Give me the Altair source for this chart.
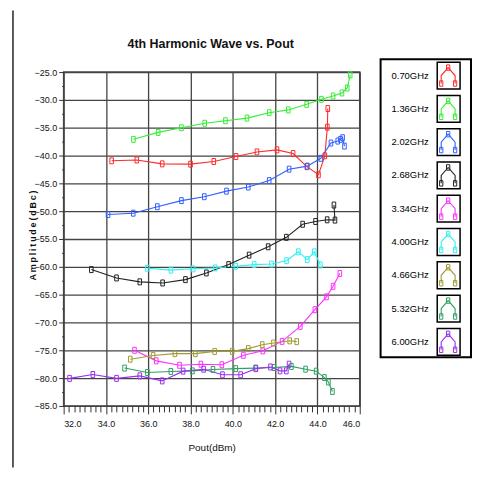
import altair as alt
import pandas as pd

# ---------------- data ----------------
names = ["0.70GHz", "1.36GHz", "2.02GHz", "2.68GHz", "3.34GHz",
         "4.00GHz", "4.66GHz", "5.32GHz", "6.00GHz"]
colors = ["#ff2a2a", "#33ee33", "#3060ff", "#222222", "#ff30ff",
          "#30f0f0", "#a09a30", "#30a060", "#9a30f0"]

x_070 = [34.27, 35.46, 36.66, 38.0, 39.1, 40.15, 41.14, 42.09, 42.85, 43.5, 44.05, 44.35, 44.47, 44.49]
y_070 = [-40.95, -40.8, -41.5, -41.55, -41.07, -40.18, -39.35, -38.98, -39.64, -42.0, -43.45, -40.05, -34.9, -31.55]

x_136 = [35.30, 36.47, 37.57, 38.67, 39.65, 40.67, 41.72, 42.62, 43.49, 44.19, 44.74, 45.16, 45.41, 45.55]
y_136 = [-37.09, -35.84, -35.0, -34.2, -33.75, -33.27, -32.3, -31.8, -30.8, -29.9, -29.3, -28.75, -27.86, -25.5]

x_202 = [34.1, 35.29, 36.43, 37.57, 38.65, 39.7, 40.73, 41.72, 42.66, 43.52, 44.16, 44.64, 44.96, 45.09, 45.19, 45.28]
y_202 = [-50.6, -50.36, -49.2, -48.1, -47.4, -46.4, -45.66, -44.5, -42.45, -41.9, -40.5, -37.75, -37.4, -37.1, -36.8, -38.3]

x_268 = [33.31, 34.5, 35.6, 36.68, 37.76, 38.75, 39.8, 40.77, 41.67, 42.53, 43.3, 43.91, 44.46, 44.83, 44.78]
y_268 = [-60.5, -62.0, -62.7, -62.9, -62.3, -61.1, -59.6, -57.9, -56.4, -54.7, -52.35, -51.85, -51.55, -51.6, -48.9]

x_334 = [35.35, 36.38, 37.48, 38.49, 39.48, 40.5, 41.42, 42.33, 43.19, 43.88, 44.43, 44.74, 45.06]
y_334 = [-75.0, -76.9, -77.7, -77.5, -77.6, -75.9, -75.1, -73.4, -70.7, -67.7, -65.4, -63.5, -61.2]

x_400 = [35.96, 37.07, 38.12, 39.17, 40.14, 41.01, 41.83, 42.54, 43.1, 43.52, 43.85, 44.14]
y_400 = [-60.25, -60.6, -60.36, -60.2, -59.9, -59.6, -59.5, -58.9, -57.3, -58.7, -57.3, -59.65]

x_466 = [35.15, 36.23, 37.26, 38.23, 39.14, 39.97, 40.73, 41.39, 41.92, 42.69, 43.02]
y_466 = [-76.6, -75.95, -75.6, -75.6, -75.2, -75.2, -74.7, -74.0, -73.7, -73.3, -73.45]

x_532 = [34.88, 35.96, 37.07, 38.09, 39.06, 40.14, 41.08, 41.94, 42.77, 43.44, 43.94, 44.33, 44.52, 44.71]
y_532 = [-78.2, -79.0, -78.8, -78.7, -78.45, -78.3, -78.2, -78.1, -77.9, -78.4, -78.75, -79.9, -80.7, -82.4]

x_600 = [32.28, 33.38, 34.5, 35.6, 36.66, 37.65, 38.62, 39.51, 40.37, 41.09, 41.78, 42.23, 42.53, 42.66]
y_600 = [-80.05, -79.35, -80.05, -79.6, -80.5, -78.75, -78.4, -79.4, -79.4, -78.3, -78.0, -78.7, -78.7, -77.5]

x_ticks = [32 + 0.25 * i for i in range(57)]
y_ticks = [-85 + 2.5 * i for i in range(25)]

title_text = "4th Harmonic Wave vs. Pout"
x_title = "Pout(dBm)"
y_title = "\u2009".join("Amplitude(dBc)")

# ---------------- build tables ----------------
series_xy = [(x_070, y_070), (x_136, y_136), (x_202, y_202), (x_268, y_268), (x_334, y_334),
             (x_400, y_400), (x_466, y_466), (x_532, y_532), (x_600, y_600)]
rows = []
for s, (xs, ys) in zip(names, series_xy):
    for k, (xv, yv) in enumerate(zip(xs, ys)):
        rows.append({"series": s, "pout": xv, "amp": yv, "k": k})
df = pd.DataFrame(rows)

leg_df = pd.DataFrame({"series": names, "i": list(range(len(names)))})
icon_dx = [4, 4, 11, 18, 18]
icon_dy = [8, 0, -8, 0, 8]
icon_mark = [1, 0, 1, 0, 1]
irows = []
for i, s in enumerate(names):
    for k in range(len(icon_dx)):
        irows.append({"series": s, "i": i, "k": k, "dx": icon_dx[k], "dy": icon_dy[k], "m": icon_mark[k]})
icon_df = pd.DataFrame(irows)

NARROW = "Liberation Sans Narrow, Arial Narrow, Liberation Sans, sans-serif"
W, H = 298, 336
RECT = "M-0.6,-1V1H0.6V-1Z"

col = alt.Color("series:N", scale=alt.Scale(domain=names, range=colors), legend=None)

xaxis = alt.Axis(
    values=x_ticks,
    labelExpr="datum.value % 2 === 0 ? format(datum.value, '.1f') : ''",
    labelOverlap=False,
    tickSize={"condition": {"test": "datum.value % 2 === 0", "value": 8}, "value": 6},
    gridOpacity={"condition": {"test": "datum.value % 2 === 0", "value": 1}, "value": 0},
    title=x_title, titlePadding=14, labelPadding=6,
)
yaxis = alt.Axis(
    values=y_ticks,
    labelExpr="datum.value % 5 === 0 ? format(datum.value, '.1f') : ''",
    labelOverlap=False,
    tickSize={"condition": {"test": "datum.value % 5 === 0", "value": 5}, "value": 2},
    gridOpacity={"condition": {"test": "datum.value % 5 === 0", "value": 1}, "value": 0},
    title=y_title, titleX=-26, titleY=164, titleAngle=270, titleBaseline="bottom",
)

base = alt.Chart(df).encode(
    x=alt.X("pout:Q", scale=alt.Scale(domain=[32, 46], nice=False, zero=False), axis=xaxis),
    y=alt.Y("amp:Q", scale=alt.Scale(domain=[-85, -25], nice=False, zero=False), axis=yaxis),
    color=col,
    order=alt.Order("k:Q"),
)
lines = base.mark_line(strokeWidth=1.1)
pts = base.mark_point(shape=RECT, size=36, filled=False, strokeWidth=1, opacity=1)

one = pd.DataFrame({"a": [0]})
frame = alt.Chart(one).mark_rect(fill="white", stroke="black", strokeWidth=2).encode(
    x=alt.value(319), x2=alt.value(410), y=alt.value(-13), y2=alt.value(287))

labels = alt.Chart(leg_df).transform_calculate(c="3.5 + datum.i * 33.5").mark_text(
    align="left", baseline="middle", fontSize=9.5, font=NARROW, color="black").encode(
    x=alt.value(330), y=alt.Y("c:Q", scale=None, axis=None), text="series:N")

boxes = alt.Chart(leg_df).transform_calculate(
    c0="3.5 + datum.i * 33.5 - 13.5", c1="3.5 + datum.i * 33.5 + 13.5").mark_rect(
    fill="white", stroke="black", strokeWidth=1.5).encode(
    x=alt.value(376), x2=alt.value(399),
    y=alt.Y("c0:Q", scale=None, axis=None), y2="c1:Q")

icon_base = alt.Chart(icon_df).transform_calculate(
    px="376 + datum.dx", py="3.5 + datum.i * 33.5 + datum.dy").encode(
    x=alt.X("px:Q", scale=None, axis=None),
    y=alt.Y("py:Q", scale=None, axis=None),
    color=col, order=alt.Order("k:Q"))
icon_lines = icon_base.mark_line(strokeWidth=1.1)
icon_pts = icon_base.transform_filter("datum.m == 1").mark_point(
    shape=RECT, size=30, filled=False, strokeWidth=1, opacity=1)

title = alt.Chart(pd.DataFrame({"t": [title_text]})).mark_text(
    fontSize=12.5, font=NARROW, fontWeight="bold", color="#111", baseline="middle").encode(
    x=alt.value(148), y=alt.value(-28), text="t:N")

border = alt.Chart(one).mark_rule(color="#222", strokeWidth=1.5).encode(
    x=alt.value(-51), y=alt.value(-62), y2=alt.value(398))

chart = alt.layer(
    border, title, lines, pts, frame, boxes, labels, icon_lines, icon_pts
).properties(
    width=W, height=H,
    padding={"left": 4, "top": 0, "right": 0, "bottom": 0},
).configure_view(
    stroke="#444", strokeWidth=1.5
).configure_axis(
    gridColor="#444", gridWidth=1.3, domain=False,
    tickColor="#333", tickWidth=1,
    labelFont=NARROW, labelFontSize=9, labelColor="#111",
    titleFont=NARROW, titleColor="#111",
).configure_axisX(
    titleFontSize=10, titleFontWeight="normal",
).configure_axisY(
    titleFontSize=9, titleFontWeight="bold", labelPadding=2,
)

chart.save("out.html", embed_options={"renderer": "svg", "actions": False})
